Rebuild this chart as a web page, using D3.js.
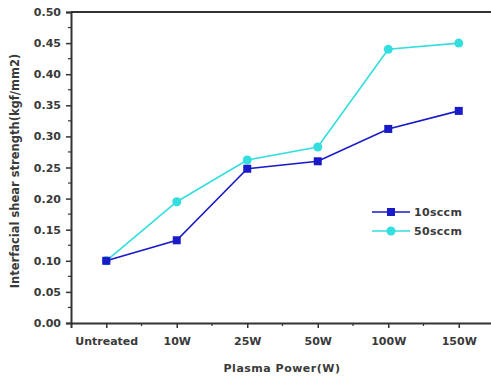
<!DOCTYPE html>
<html>
<head>
<meta charset="utf-8">
<script src="https://cdn.jsdelivr.net/npm/d3@7"></script>
<style>
  body { margin: 0; background: #fff; }
  svg { display: block; font-family: "DejaVu Sans", Verdana, sans-serif; }
</style>
</head>
<body>
<svg id="svg1" width="491" height="378"></svg>
<script>
var categories = ['Untreated', '10W', '25W', '50W', '100W', '150W'];
var sccm10 = [0.10, 0.133, 0.248, 0.26, 0.312, 0.341];
var sccm50 = [0.10, 0.195, 0.262, 0.283, 0.44, 0.45];
var yTicks = [0, 0.05, 0.10, 0.15, 0.20, 0.25, 0.30, 0.35, 0.40, 0.45, 0.50];
var seriesNames = ['10sccm', '50sccm'];

var svg = d3.select('svg');

// note: "top" is taken by window.top, so use plot* names
var plotLeft = 71, plotTop = 12, plotRight = 494, plotBottom = 323;

// x as index positions, half a step padding each side
var x = d3.scaleLinear().domain([-0.5, categories.length - 0.5]).range([plotLeft, plotRight]);
var y = d3.scaleLinear().domain([0, 0.5]).range([plotBottom, plotTop]);

var axisColor = '#333';
var textColor = '#3a3a3a';

// frame top
svg.append('line').attr('x1', plotLeft).attr('x2', 491).attr('y1', plotTop).attr('y2', plotTop)
    .attr('stroke', axisColor).attr('stroke-width', 2);

// y axis
var yAxis = svg.append('g').attr('transform', 'translate(' + plotLeft + ',0)')
    .call(d3.axisLeft(y).tickValues(yTicks).tickFormat(d3.format('.2f')).tickSize(5).tickPadding(5));
yAxis.select('.domain').attr('stroke', axisColor).attr('stroke-width', 2);
yAxis.selectAll('.tick line').attr('stroke', axisColor).attr('stroke-width', 1.5);
yAxis.selectAll('text').attr('fill', textColor).attr('font-size', 11).attr('font-weight', 'bold')
    .attr('font-family', '"DejaVu Sans", Verdana, sans-serif');

// y minor ticks
var yMinor = d3.range(0.025, 0.5, 0.05);
svg.append('g').selectAll('line').data(yMinor).enter().append('line')
    .attr('x1', plotLeft - 3).attr('x2', plotLeft)
    .attr('y1', function(d){ return y(d); }).attr('y2', function(d){ return y(d); })
    .attr('stroke', axisColor).attr('stroke-width', 1.2);

// x axis
var xAxis = svg.append('g').attr('transform', 'translate(0,' + plotBottom + ')')
    .call(d3.axisBottom(x).tickValues(d3.range(categories.length))
        .tickFormat(function(i){ return categories[i]; }).tickSize(5).tickPadding(9));
xAxis.select('.domain').attr('stroke', axisColor).attr('stroke-width', 2);
xAxis.selectAll('.tick line').attr('stroke', axisColor).attr('stroke-width', 1.5);
xAxis.selectAll('text').attr('fill', textColor).attr('font-size', 11).attr('font-weight', 'bold')
    .attr('font-family', '"DejaVu Sans", Verdana, sans-serif');

// x minor ticks
var xMinor = d3.range(0.5, categories.length - 0.5, 1);
svg.append('g').selectAll('line').data(xMinor).enter().append('line')
    .attr('x1', function(d){ return x(d); }).attr('x2', function(d){ return x(d); })
    .attr('y1', plotBottom).attr('y2', plotBottom + 3)
    .attr('stroke', axisColor).attr('stroke-width', 1.2);

// axis titles
svg.append('text').attr('x', 282).attr('y', 372).attr('text-anchor', 'middle')
    .attr('fill', textColor).attr('font-size', 11).attr('font-weight', 'bold')
    .attr('letter-spacing', 0.5)
    .text('Plasma Power(W)');
svg.append('text').attr('transform', 'translate(19,171) rotate(-90)').attr('text-anchor', 'middle')
    .attr('fill', textColor).attr('font-size', 11.5).attr('font-weight', 'bold')
    .text('Interfacial shear strength(kgf/mm2)');

var line = d3.line()
    .x(function(d, i){ return x(i); })
    .y(function(d){ return y(d); });

var blue = '#1a1ac8', cyan = '#33dede';

// 50sccm
svg.append('path').datum(sccm50).attr('d', line)
    .attr('fill', 'none').attr('stroke', cyan).attr('stroke-width', 1.6);
svg.append('g').selectAll('circle').data(sccm50).enter().append('circle')
    .attr('cx', function(d, i){ return x(i); }).attr('cy', function(d){ return y(d); })
    .attr('r', 4.5).attr('fill', cyan);

// 10sccm
svg.append('path').datum(sccm10).attr('d', line)
    .attr('fill', 'none').attr('stroke', blue).attr('stroke-width', 1.6);
svg.append('g').selectAll('rect').data(sccm10).enter().append('rect')
    .attr('x', function(d, i){ return x(i) - 4; }).attr('y', function(d){ return y(d) - 4; })
    .attr('width', 8).attr('height', 8).attr('fill', blue);

// legend
var legend = svg.append('g').attr('transform', 'translate(372,212)');
[blue, cyan].forEach(function(c, i){
    var g = legend.append('g').attr('transform', 'translate(0,' + (i * 19) + ')');
    g.append('line').attr('x1', 0).attr('x2', 38).attr('stroke', c).attr('stroke-width', 1.6);
    if (i === 0) {
        g.append('rect').attr('x', 15).attr('y', -4).attr('width', 8).attr('height', 8).attr('fill', c);
    } else {
        g.append('circle').attr('cx', 19).attr('r', 4.5).attr('fill', c);
    }
    g.append('text').attr('x', 42).attr('y', 4).attr('fill', textColor)
        .attr('font-size', 11).attr('font-weight', 'bold').attr('letter-spacing', 0.3)
        .text(seriesNames[i]);
});
</script>
</body>
</html>
